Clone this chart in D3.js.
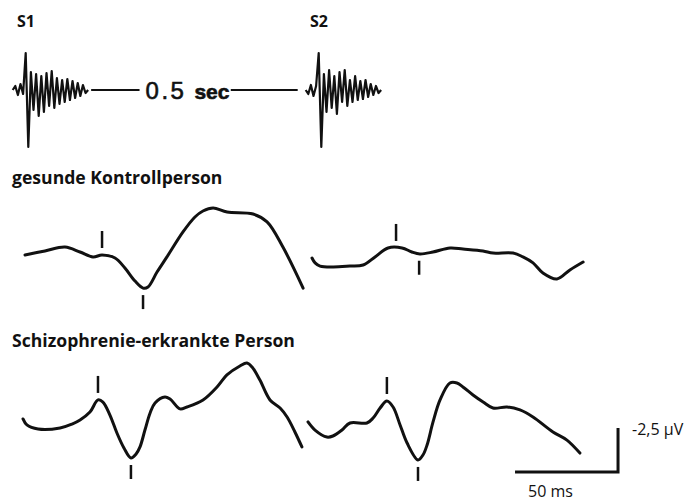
<!DOCTYPE html>
<html>
<head>
<meta charset="utf-8">
<script src="https://cdn.jsdelivr.net/npm/d3@7"></script>
<style>
  body { margin: 0; background: #fff; }
  svg { display: block; }
  .lbl { font-family: "Open Sans", Lato, sans-serif; font-weight: 700; fill: #111; }
  .unit { font-family: "Open Sans", Lato, sans-serif; fill: #111; }
</style>
</head>
<body>
<div id="chart"></div>
<script>
// stimulus bursts (arbitrary amplitude, positive = up), one sample every 4.4 ms
var stimLabels = ["S1", "S2"];
var stimOnsets = [0, 0.5];       // sec
var burstS1 = [0, 4, -5, 6, -4, 37, -57, 18, -20, 16, -26, 14, -22, 17, -16,
               19, -18, 12, -14, 10, -12, 11, -10, 9, -8, 7, -6, 5, -3, 0];
var burstS2 = [0, -4, 5, -6, 4, 37, -57, 16, -22, 20, -18, 14, -24, 18, -12,
               20, -16, 10, -12, 14, -10, 9, -9, 10, -7, 6, -5, 4, -3, 0];

var rowLabels = ["gesunde Kontrollperson", "Schizophrenie-erkrankte Person"];

// ERPs: [ms, µV], negative up
var ctrlS1 = [[0, 0], [9.7, -0.23], [19.4, -0.45], [26.7, -0.17], [33, 0.11], [37.4, 0],
              [43.7, 0.17], [48.5, 0.74], [53.4, 1.48], [57.3, 1.88], [59.7, 1.82], [64.1, 0.97],
              [68.9, 0.11], [76.7, -1.31], [82.5, -2.16], [86.4, -2.5], [91.3, -2.67], [98.1, -2.44],
              [110.7, -2.33], [117.5, -1.88], [125.2, -0.45], [135, 1.88]];
var ctrlS2 = [[0, 0.17], [1.5, 0.45], [3.9, 0.63], [10.2, 0.68], [18.4, 0.63], [24.8, 0.57],
              [30.6, 0.11], [36.9, -0.4], [43.7, -0.4], [48.5, -0.17], [52.4, -0.06], [58.7, -0.17],
              [67, -0.4], [73.3, -0.34], [83, -0.23], [87.9, -0.11], [97.6, -0.11], [102.4, 0.11],
              [107.3, 0.45], [112.1, 1.02], [118.9, 1.36], [125.2, 0.85], [131.6, 0.4]];
var schizoS1 = [[0, -0.06], [1.9, 0.28], [7.3, 0.51], [18, 0.45], [23.8, 0.23], [27.7, 0],
                [32.5, -0.45], [36.4, -1.14], [38.8, -1.02], [42.2, -0.28], [45.6, 0.74], [49, 1.59],
                [52.4, 2.16], [54.9, 1.93], [56.8, 1.53], [59.2, 0.57], [61.7, -0.4], [64.1, -0.97],
                [68.9, -1.31], [71.4, -1.19], [76.2, -0.63], [79.6, -0.74], [87.4, -1.14], [94.2, -1.88],
                [99, -2.56], [105.3, -3.07], [108.7, -3.24], [111.2, -3.01], [115, -2.27], [119.9, -1.14],
                [124.8, -0.68], [128.2, -0.17], [132, 0.68], [135.4, 1.53]];
var schizoS2 = [[0, 0.11], [3.4, 0.57], [9.2, 0.97], [12.1, 0.91], [16.5, 0.57], [20.4, 0.17],
                [28.6, 0.17], [31.6, -0.11], [35, -0.68], [38.3, -1.08], [41.3, -0.74], [44.7, 0.28],
                [48.1, 1.31], [53.4, 2.27], [55.8, 1.99], [57.8, 1.42], [60.7, 0.11], [64.1, -1.14],
                [68.9, -2.1], [72.3, -2.1], [75.2, -1.88], [80.1, -1.42], [85, -1.02], [89.8, -0.68],
                [96.6, -0.74], [102.9, -0.57], [109.2, -0.17], [118.9, 0.68], [125.7, 1.14], [132, 1.88]];

// P50 (above) / N100 (below) markers, ms, per panel
var ctrlMarks = [[37.4, 57.3], [40.8, 52]];
var schizoMarks = [[36.4, 52.4], [38.3, 53.4]];

var scaleMs = 50, scaleUv = -2.5;

var width = 689, height = 502;
var svg = d3.select("#chart").append("svg")
  .attr("width", width).attr("height", height);

var ink = "#111";

// ---- stimulus row ----
var tScale = d3.scaleLinear().domain([0, 0.5]).range([27, 320]);
var ampScale = d3.scaleLinear().domain([-60, 60]).range([150, 30]);
var dt = 0.00444, tStart = -5.5 * dt;

[burstS1, burstS2].forEach(function(b, k) {
  var onset = stimOnsets[k];
  var line = d3.line()
    .x(function(d, i) { return tScale(onset + tStart + i * dt); })
    .y(function(d) { return ampScale(d); });
  svg.append("path")
    .attr("d", line(b))
    .attr("fill", "none").attr("stroke", ink)
    .attr("stroke-width", 2.2).attr("stroke-linejoin", "round");
  svg.append("text").attr("class", "lbl")
    .attr("x", tScale(onset) - 10).attr("y", 27)
    .style("font-size", "16px")
    .text(stimLabels[k]);
});

var isi = svg.append("text")
  .attr("x", tScale(0.25) + 14).attr("y", ampScale(-9))
  .attr("text-anchor", "middle")
  .style("font-family", "'Liberation Sans', Arial, sans-serif")
  .style("fill", ink).style("stroke", ink).style("stroke-width", 0.6);
isi.append("tspan").style("font-size", "24px").attr("letter-spacing", "2.5px").text("0.5");
isi.append("tspan").style("font-size", "21px").style("font-weight", "700").attr("dx", 8).text("sec");
var bb = isi.node().getBBox();
var burstEnd = tScale(tStart + (burstS1.length - 1) * dt);
var burst2Start = tScale(0.5 + tStart);
svg.append("line").attr("x1", burstEnd + 3).attr("x2", bb.x - 6)
  .attr("y1", ampScale(0)).attr("y2", ampScale(0))
  .attr("stroke", ink).attr("stroke-width", 2);
svg.append("line").attr("x1", bb.x + bb.width + 1).attr("x2", burst2Start - 8)
  .attr("y1", ampScale(0)).attr("y2", ampScale(0))
  .attr("stroke", ink).attr("stroke-width", 2);

// ---- ERP rows ----
var rows = [
  { label: rowLabels[0], labelY: 184, y0: 255, x0s: [25, 312], data: [ctrlS1, ctrlS2], marks: ctrlMarks },
  { label: rowLabels[1], labelY: 347, y0: 420, x0s: [23, 308], data: [schizoS1, schizoS2], marks: schizoMarks }
];

var pxPer50 = 103, pxPer25 = 44;

rows.forEach(function(r) {
  svg.append("text").attr("class", "lbl")
    .attr("x", 12).attr("y", r.labelY)
    .style("font-size", "17.6px")
    .text(r.label);

  var y = d3.scaleLinear().domain([0, 2.5]).range([r.y0, r.y0 + pxPer25]);

  r.data.forEach(function(series, k) {
    var x = d3.scaleLinear().domain([0, 50]).range([r.x0s[k], r.x0s[k] + pxPer50]);
    var line = d3.line()
      .x(function(d) { return x(d[0]); })
      .y(function(d) { return y(d[1]); })
      .curve(d3.curveCatmullRom.alpha(0.5));
    svg.append("path")
      .attr("d", line(series))
      .attr("fill", "none").attr("stroke", ink)
      .attr("stroke-width", 3).attr("stroke-linejoin", "round").attr("stroke-linecap", "round");

    // value of the series at a time point
    var bis = d3.bisector(function(d) { return d[0]; }).left;
    function at(ms) {
      var i = Math.max(1, Math.min(series.length - 1, bis(series, ms)));
      var a = series[i - 1], b = series[i];
      return a[1] + (b[1] - a[1]) * (ms - a[0]) / (b[0] - a[0]);
    }

    var upMs = r.marks[k][0], downMs = r.marks[k][1];
    var cy = y(at(upMs));
    svg.append("line")
      .attr("x1", x(upMs)).attr("x2", x(upMs))
      .attr("y1", cy - 24).attr("y2", cy - 7)
      .attr("stroke", ink).attr("stroke-width", 2.5);
    cy = y(at(downMs));
    svg.append("line")
      .attr("x1", x(downMs)).attr("x2", x(downMs))
      .attr("y1", cy + 7).attr("y2", cy + 21)
      .attr("stroke", ink).attr("stroke-width", 2.5);

    // calibration bar under the last panel
    if (r === rows[1] && k === 1) {
      var bx = x(100.5), by = y(2.95);
      var bx2 = x(100.5 + scaleMs), by2 = y(2.95 + scaleUv);
      svg.append("path")
        .attr("d", "M" + bx + "," + by + "H" + bx2 + "V" + by2)
        .attr("fill", "none").attr("stroke", ink).attr("stroke-width", 3);
      svg.append("text").attr("class", "unit")
        .attr("x", bx + 13).attr("y", 497)
        .style("font-size", "16px")
        .text(scaleMs + " ms");
      svg.append("text").attr("class", "unit")
        .attr("x", bx2 + 14).attr("y", by2 + 7)
        .style("font-size", "16px")
        .text(String(scaleUv).replace(".", ",") + " µV");
    }
  });
});
</script>
</body>
</html>
